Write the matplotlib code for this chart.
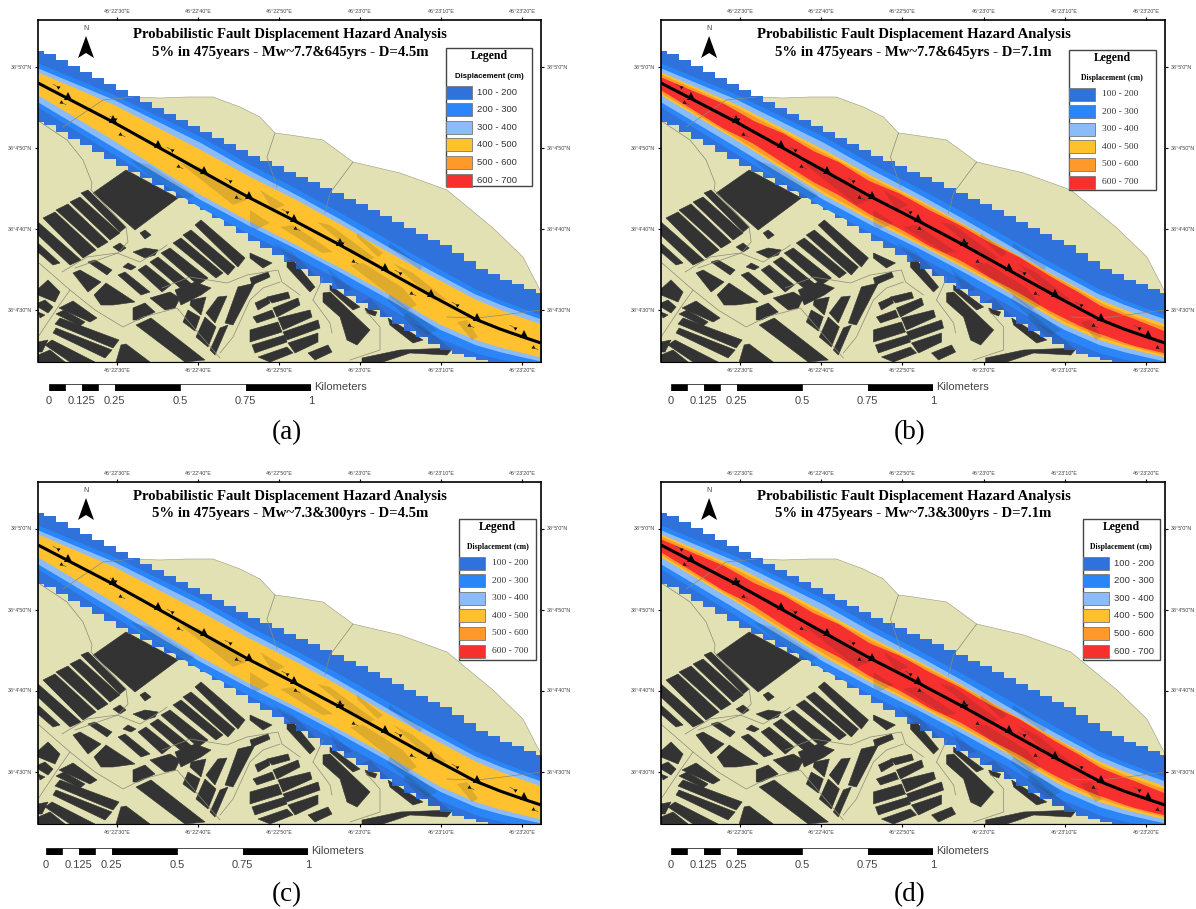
import numpy as np
import matplotlib
matplotlib.use('Agg')
import matplotlib.pyplot as plt
from matplotlib.patches import Polygon, Rectangle

plt.rcParams['font.family'] = ['Liberation Sans', 'DejaVu Sans']
SERIF = ['Liberation Serif', 'DejaVu Serif']
SANS = ['Liberation Sans', 'DejaVu Sans']

W, H = 1196, 909

# map units are the pixels of panel (a)
x_ticks = [117, 198, 279, 360, 441, 522]
x_labels = ['46°22\'30"E', '46°22\'40"E', '46°22\'50"E', '46°23\'0"E', '46°23\'10"E', '46°23\'20"E']
y_ticks = [67, 148, 229, 310]
y_labels = ['38°5\'0"N', '38°4\'50"N', '38°4\'40"N', '38°4\'30"N']

legend_labels = ['100 - 200', '200 - 300', '300 - 400', '400 - 500', '500 - 600', '600 - 700']
legend_colors = ['#2f72dc', '#2a86f8', '#8cbcf8', '#ffc22e', '#ff9a2a', '#f5302f']

scale_km = [0, 0.0625, 0.125, 0.1875, 0.25, 0.5, 0.75, 1]
scale_ticks = [0, 0.125, 0.25, 0.5, 0.75, 1]
scale_tick_labels = ['0', '0.125', '0.25', '0.5', '0.75', '1']

fault_x = [38, 113, 158, 203, 248, 293, 340, 385, 430, 475, 500, 523, 541]
fault_y = [83, 122, 147, 172, 197, 220, 245, 270, 295, 319, 329, 337, 343]

# band edges, measured from the fault line
stations = [38, 115, 200, 300, 385, 440, 480, 541]
dark_top = [-32, -34, -38, -45, -52, -55, -50, -48]
mid_top = [-20, -28, -34, -33, -32, -31, -30, -28]
light_top = [-15, -23, -28, -27, -25, -25, -25, -24]
yellow_top = [-11, -18, -21, -22, -20, -20, -20, -19]
yellow_bot = [12, 18, 24, 23, 22, 24, 20, 14]
light_bot = [19, 25, 29, 27, 27, 29, 25, 18]
mid_bot = [24, 32, 37, 35, 35, 38, 33, 24]
dark_bot = [39, 42, 40, 48, 50, 50, 40, 24]

# only in panels (b) and (d)
orange_top = [-9, -15, -18, -20, -20, -19, -17, -16]
orange_bot = [10, 16, 21, 21, 20, 21, 17, 12]
red_stations = [38, 70, 100, 130, 160, 190, 215, 245, 275, 305, 335, 365, 395, 425, 455, 480, 510, 541]
red_top = [-6, -9, -12, -11, -15, -14, -17, -15, -18, -17, -18, -17, -19, -17, -16, -14, -14, -12]
red_bot = [7, 10, 13, 12, 15, 17, 16, 18, 17, 19, 17, 18, 17, 18, 17, 14, 13, 10]

ground = [(38, 118), (63, 108), (103, 100), (133, 97), (160, 98), (187, 97), (213, 97), (240, 107),
          (260, 117), (275, 133), (290, 135), (323, 140), (353, 162), (400, 173), (447, 190),
          (493, 228), (523, 257), (541, 292), (541, 362), (38, 362)]

blocks = [
    [(93, 193), (126, 170), (178, 198), (135, 230)],
    [(81, 193), (88, 190), (126, 227), (120, 232)],
    [(70, 202), (80, 197), (120, 233), (110, 240)],
    [(56, 210), (68, 204), (108, 242), (98, 248)],
    [(43, 218), (55, 212), (96, 250), (83, 258)],
    [(38, 222), (81, 260), (70, 265), (38, 235)],
    [(38, 243), (60, 263), (53, 265), (38, 252)],
    [(140, 233), (145, 230), (151, 235), (145, 239)],
    [(113, 247), (120, 243), (126, 248), (120, 252)],
    [(133, 252), (145, 248), (158, 250), (155, 255), (145, 258)],
    [(123, 267), (128, 263), (136, 267), (131, 270)],
    [(88, 262), (95, 260), (112, 270), (107, 275)],
    [(73, 273), (80, 270), (101, 282), (88, 292)],
    [(195, 225), (201, 220), (245, 258), (238, 267)],
    [(183, 235), (191, 230), (235, 267), (228, 275)],
    [(173, 243), (181, 238), (223, 273), (216, 278)],
    [(161, 253), (170, 248), (208, 278), (198, 285)],
    [(150, 262), (158, 257), (193, 285), (185, 292)],
    [(138, 270), (146, 265), (171, 285), (162, 292)],
    [(118, 275), (125, 272), (150, 292), (141, 295)],
    [(94, 295), (106, 283), (135, 302), (113, 305), (101, 305)],
    [(150, 298), (170, 292), (180, 298), (175, 308), (165, 310)],
    [(175, 290), (188, 285), (195, 282), (211, 288), (201, 295), (181, 305)],
    [(133, 308), (145, 303), (155, 312), (138, 320), (133, 320)],
    [(191, 300), (206, 297), (201, 315), (190, 305)],
    [(188, 310), (200, 317), (195, 331), (183, 322)],
    [(218, 297), (227, 296), (215, 323), (206, 313)],
    [(205, 317), (216, 327), (208, 347), (196, 337)],
    [(220, 328), (228, 325), (215, 355), (210, 350)],
    [(255, 283), (238, 287), (225, 323), (233, 325)],
    [(136, 325), (151, 318), (205, 360), (185, 362)],
    [(59, 308), (73, 301), (97, 318), (90, 322)],
    [(56, 314), (64, 310), (85, 322), (80, 326)],
    [(55, 324), (60, 318), (119, 340), (113, 348)],
    [(53, 333), (56, 328), (112, 350), (105, 358)],
    [(45, 345), (52, 340), (95, 362), (70, 362)],
    [(38, 342), (48, 340), (42, 352), (38, 352)],
    [(38, 355), (50, 350), (65, 362), (38, 362)],
    [(121, 345), (126, 344), (150, 362), (116, 362)],
    [(38, 289), (48, 280), (60, 292), (55, 302), (38, 295)],
    [(38, 303), (45, 300), (53, 307), (48, 313), (38, 307)],
    [(38, 312), (45, 315), (40, 318)],
    [(250, 253), (272, 263), (263, 268), (250, 258)],
    [(250, 278), (268, 272), (270, 277), (252, 285)],
    [(255, 303), (268, 297), (270, 303), (258, 310)],
    [(267, 297), (288, 292), (290, 298), (272, 303)],
    [(273, 308), (298, 298), (300, 305), (277, 317)],
    [(253, 317), (272, 310), (275, 317), (257, 323)],
    [(278, 318), (310, 310), (312, 317), (283, 330)],
    [(250, 330), (278, 322), (282, 332), (250, 342)],
    [(283, 332), (318, 320), (320, 328), (287, 340)],
    [(252, 345), (285, 335), (287, 342), (255, 353)],
    [(288, 343), (318, 333), (318, 342), (295, 353)],
    [(258, 357), (287, 347), (293, 353), (270, 362)],
    [(308, 353), (328, 345), (332, 352), (315, 360)],
    [(287, 260), (293, 260), (315, 287), (310, 292), (287, 267)],
    [(323, 293), (330, 292), (370, 330), (357, 345), (347, 340), (340, 317), (323, 302)],
    [(330, 285), (360, 307), (353, 310), (330, 290)],
    [(388, 318), (423, 340), (413, 343), (390, 325)],
    [(362, 358), (400, 350), (453, 348), (447, 355), (410, 353), (383, 362), (362, 362)],
    [(365, 308), (377, 312), (375, 316), (367, 313)],
]

# blocks that only show through the hazard bands
hidden_blocks = [
    [(130, 160), (150, 165), (195, 195), (183, 203)],
    [(180, 163), (200, 167), (247, 200), (233, 205)],
    [(250, 210), (270, 223), (255, 230), (250, 225)],
    [(260, 190), (285, 205), (273, 210)],
    [(280, 227), (293, 225), (333, 252), (322, 253)],
    [(317, 222), (330, 225), (375, 258), (365, 261)],
    [(350, 265), (363, 263), (403, 288), (417, 305), (407, 310), (383, 290)],
    [(393, 263), (413, 273), (447, 300), (433, 300)],
    [(457, 322), (467, 320), (478, 337), (472, 340)],
    [(357, 233), (383, 253), (378, 257), (357, 237)],
    [(390, 243), (423, 267), (420, 270), (388, 247)],
    [(273, 243), (293, 253), (320, 280), (313, 283)],
    [(327, 268), (353, 290), (340, 292)],
    [(370, 298), (390, 318), (382, 320), (360, 302)],
    [(390, 295), (437, 330), (427, 335), (387, 300)],
    [(407, 313), (450, 348), (437, 352), (403, 317)],
]

roads = [
    [(40, 122), (67, 140), (83, 160), (92, 183), (91, 190), (126, 227), (128, 242), (118, 253), (75, 268)],
    [(39, 263), (70, 290), (95, 310), (123, 327), (143, 317), (177, 308), (220, 358)],
    [(38, 337), (58, 307), (70, 290)],
    [(62, 272), (87, 257), (117, 253), (140, 262), (163, 248), (167, 245)],
    [(162, 288), (190, 277), (227, 283), (247, 275), (278, 270), (282, 282), (300, 295)],
    [(220, 353), (233, 337), (250, 300), (263, 288), (280, 282)],
    [(350, 360), (380, 350), (380, 327), (365, 310)],
    [(313, 300), (323, 278)],
    [(313, 300), (330, 323), (332, 333)],
    [(353, 162), (330, 193), (325, 213)],
    [(275, 133), (267, 157), (277, 187)],
    [(133, 97), (103, 100), (63, 127)],
    [(541, 310), (503, 315), (477, 318), (447, 317)],
]

teeth_x = [68, 113, 158, 204, 249, 294, 340, 385, 431, 477, 524]
slip_up = [(58, 87), (115, 119), (172, 150), (230, 181), (287, 212), (342, 243), (400, 273), (457, 305), (515, 328)]
slip_down = [(61, 102), (120, 134), (178, 166), (236, 197), (295, 228), (353, 261), (411, 293), (469, 325), (533, 347)]

titles = ['5% in 475years - Mw~7.7&645yrs - D=4.5m', '5% in 475years - Mw~7.7&645yrs - D=7.1m',
          '5% in 475years - Mw~7.3&300yrs - D=4.5m', '5% in 475years - Mw~7.3&300yrs - D=7.1m']
panel_names = ['(a)', '(b)', '(c)', '(d)']
panel_boxes = [(38, 20, 541, 362), (661, 20, 1165, 362), (38, 482, 541, 824), (661, 482, 1165, 824)]
scale_boxes = [(49, 384), (671, 384), (46, 848), (671, 848)]
legend_boxes = [(446, 48, 86, 138), (445, 50, 87, 140), (459, 57, 77, 141), (459, 57, 77, 141)]
legend_fonts = [SANS, SERIF, SERIF, SANS]
has_red = [False, True, False, True]


def px_axes(fig, left, top, right, bottom):
    return fig.add_axes([left / W, 1 - bottom / H, (right - left) / W, (bottom - top) / H])


def band(ax, x, upper, lower, color, step=None, where=stations):
    y0 = np.interp(x, fault_x, fault_y)
    return ax.fill_between(x, y0 + np.interp(x, where, upper), y0 + np.interp(x, where, lower),
                           color=color, lw=0, step=step)


def draw_map(ax, red):
    ax.add_patch(Polygon(ground, fc='#e2e1b4', ec='#9a9a80', lw=0.4))
    for b in blocks:
        ax.add_patch(Polygon(b, fc='#333333', ec='#333333', lw=0.4))
    for r in roads:
        ax.plot(*zip(*r), color='#8a8a78', lw=0.5)

    stairs = np.arange(32, 553, 12)
    smooth = np.arange(38, 542, 2)
    outer = band(ax, stairs, dark_top, dark_bot, legend_colors[0], step='post')
    band(ax, smooth, mid_top, mid_bot, legend_colors[1])
    band(ax, smooth, light_top, light_bot, legend_colors[2])
    band(ax, smooth, yellow_top, yellow_bot, legend_colors[3])
    if red:
        band(ax, smooth, orange_top, orange_bot, legend_colors[4])
        band(ax, smooth, red_top, red_bot, legend_colors[5], where=red_stations)

    # what lies under the bands shows through a little
    clip = outer.get_paths()[0]
    for b in blocks + hidden_blocks:
        p = Polygon(b, fc='#222222', ec='none', alpha=0.14)
        ax.add_patch(p)
        p.set_clip_path(clip, transform=ax.transData)

    ax.plot(fault_x, fault_y, color='black', lw=2.2, solid_capstyle='butt')
    ax.plot(teeth_x, np.interp(teeth_x, fault_x, fault_y) - 3, '^', color='black', ms=5.5, mew=0)
    for pts, ang, dx in [(slip_up, -90, -5), (slip_down, 90, 5)]:
        xs, ys = zip(*pts)
        ax.plot(xs, ys, marker=(3, 0, ang + 25), ls='none', color='black', ms=3.2, mew=0)
        for sx, sy in pts:
            ax.plot([sx, sx + dx], [sy, sy + dx * 0.55], color='#444444', lw=0.4)


def draw_north(ax):
    ax.add_patch(Polygon([(86, 36), (78, 58), (86, 53), (94, 58)], fc='black', ec='none'))
    ax.text(86, 28, 'N', ha='center', va='center', fontsize=5, color='#444444')


def draw_legend(ax, box, font):
    x, y, w, h = box
    ax.add_patch(Rectangle((x, y), w, h, fc='white', ec='#444444', lw=1, zorder=5))
    ax.text(x + w / 2, y + 8, 'Legend', family=SERIF, weight='bold', fontsize=8.5,
            ha='center', va='center', zorder=6)
    disp_font = SANS if font is SANS and x == 446 else SERIF
    ax.text(x + w / 2, y + 28, 'Displacement (cm)', family=disp_font, weight='bold', fontsize=5.6,
            ha='center', va='center', zorder=6)
    for i, (lab, col) in enumerate(zip(legend_labels, legend_colors)):
        cy = y + 44 + i * 17.6
        ax.add_patch(Rectangle((x, cy - 6.5), 26, 13, fc=col, ec='#777777', lw=0.6, zorder=6))
        ax.text(x + 51, cy, lab, family=font, fontsize=6.8, color='#333333', ha='center', va='center', zorder=6)


def draw_scale(fig, x, y):
    sax = px_axes(fig, x, y, x + 262, y + 7)
    widths = np.diff(scale_km)
    colors = ['black' if i % 2 == 0 else 'white' for i in range(len(widths))]
    sax.barh(0, widths, left=scale_km[:-1], height=1, color=colors, edgecolor='black', lw=0.5)
    sax.set_xlim(0, 1)
    sax.set_ylim(-0.5, 0.5)
    sax.axis('off')
    for v, lab in zip(scale_ticks, scale_tick_labels):
        sax.text(v, -1.95, lab, ha='center', va='center', fontsize=8, color='#444444', clip_on=False)
    sax.text(1.012, 0, 'Kilometers', ha='left', va='center', fontsize=8, color='#444444', clip_on=False)


fig = plt.figure(figsize=(W / 100, H / 100), dpi=100)

for i in range(4):
    left, top, right, bottom = panel_boxes[i]
    ax = px_axes(fig, left, top, right, bottom)
    ax.set_xlim(38, 541)
    ax.set_ylim(362, 20)
    draw_map(ax, has_red[i])
    draw_north(ax)
    ax.text(290, 34, 'Probabilistic Fault Displacement Hazard Analysis', family=SERIF, weight='bold',
            fontsize=10.6, ha='center', va='center')
    ax.text(290, 52, titles[i], family=SERIF, weight='bold', fontsize=10.6, ha='center', va='center')
    draw_legend(ax, legend_boxes[i], legend_fonts[i])

    ax.set_xticks(x_ticks)
    ax.set_xticklabels(x_labels)
    ax.set_yticks(y_ticks)
    ax.set_yticklabels(y_labels, va='center')
    ax.tick_params(top=True, right=True, labeltop=True, labelright=True, length=2.5, width=0.8,
                   labelsize=3.9, labelcolor='#444444', pad=1.5)
    for s in ['top', 'right', 'left']:
        ax.spines[s].set_linewidth(1.2)
    ax.spines['bottom'].set_linewidth(0.8)

    draw_scale(fig, *scale_boxes[i])
    fig.text((left + 249) / W, 1 - (bottom + 71) / H, panel_names[i], family=SERIF, fontsize=19.5,
             ha='center', va='center')

fig.savefig('out.png', dpi=100)
